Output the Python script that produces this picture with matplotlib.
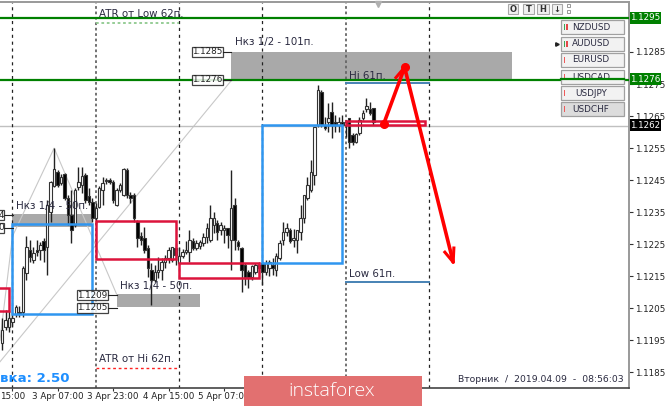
import matplotlib
matplotlib.use('Agg')
import matplotlib.pyplot as plt
from matplotlib.patches import Rectangle

plt.rcParams['font.family'] = ['DejaVu Sans']

# hourly candles, first one sits 3 bars left of the first day line
opens = [1.11941, 1.11991, 1.11991, 1.12006, 1.12031, 1.12038, 1.12038, 1.12159, 1.12231, 1.12200, 1.12231, 1.12231,
         1.12259, 1.12241, 1.12350, 1.12431, 1.12475, 1.12441, 1.12469, 1.12394, 1.12341, 1.12309, 1.12428, 1.12434,
         1.12466, 1.12400, 1.12381, 1.12331, 1.12366, 1.12419, 1.12447, 1.12450, 1.12444, 1.12372, 1.12419, 1.12403,
         1.12481, 1.12403, 1.12403, 1.12319, 1.12275, 1.12269, 1.12238, 1.12169, 1.12138, 1.12163, 1.12169, 1.12194,
         1.12206, 1.12200, 1.12238, 1.12191, 1.12213, 1.12225, 1.12225, 1.12259, 1.12238, 1.12244, 1.12253, 1.12272,
         1.12263, 1.12309, 1.12316, 1.12294, 1.12294, 1.12300, 1.12263, 1.12372, 1.12256, 1.12238, 1.12184, 1.12163,
         1.12147, 1.12163, 1.12184, 1.12191, 1.12163, 1.12175, 1.12184, 1.12169, 1.12206, 1.12263, 1.12288, 1.12294,
         1.12263, 1.12263, 1.12288, 1.12331, 1.12394, 1.12419, 1.12466, 1.12622, 1.12725, 1.12622, 1.12631, 1.12663,
         1.12631, 1.12622, 1.12631, 1.12622, 1.12644, 1.12591, 1.12569, 1.12597, 1.12644, 1.12672, 1.12672, 1.12675]
closes = [1.11981, 1.12013, 1.12019, 1.12019, 1.12053, 1.12031, 1.12175, 1.12241, 1.12209, 1.12222, 1.12225, 1.12247,
          1.12231, 1.12372, 1.12444, 1.12484, 1.12434, 1.12459, 1.12394, 1.12341, 1.12294, 1.12419, 1.12444, 1.12463,
          1.12388, 1.12381, 1.12331, 1.12363, 1.12425, 1.12441, 1.12450, 1.12444, 1.12388, 1.12419, 1.12434, 1.12484,
          1.12403, 1.12394, 1.12331, 1.12269, 1.12263, 1.12231, 1.12175, 1.12138, 1.12163, 1.12169, 1.12194, 1.12206,
          1.12231, 1.12241, 1.12216, 1.12213, 1.12225, 1.12231, 1.12263, 1.12238, 1.12253, 1.12256, 1.12272, 1.12300,
          1.12331, 1.12331, 1.12288, 1.12309, 1.12300, 1.12278, 1.12363, 1.12263, 1.12244, 1.12169, 1.12147, 1.12147,
          1.12181, 1.12184, 1.12175, 1.12163, 1.12191, 1.12194, 1.12175, 1.12213, 1.12253, 1.12288, 1.12300, 1.12259,
          1.12269, 1.12294, 1.12331, 1.12403, 1.12434, 1.12475, 1.12616, 1.12731, 1.12622, 1.12613, 1.12644, 1.12622,
          1.12622, 1.12631, 1.12622, 1.12631, 1.12569, 1.12569, 1.12594, 1.12638, 1.12659, 1.12681, 1.12659, 1.12631]
highs = [1.12019, 1.12044, 1.12044, 1.12038, 1.12059, 1.12056, 1.12181, 1.12275, 1.12263, 1.12241, 1.12263, 1.12256,
         1.12269, 1.12388, 1.12447, 1.12550, 1.12481, 1.12469, 1.12472, 1.12403, 1.12419, 1.12425, 1.12491, 1.12491,
         1.12472, 1.12425, 1.12394, 1.12378, 1.12431, 1.12459, 1.12456, 1.12456, 1.12450, 1.12425, 1.12441, 1.12488,
         1.12488, 1.12413, 1.12409, 1.12325, 1.12288, 1.12303, 1.12247, 1.12191, 1.12184, 1.12209, 1.12206, 1.12216,
         1.12241, 1.12241, 1.12253, 1.12241, 1.12234, 1.12259, 1.12294, 1.12269, 1.12263, 1.12263, 1.12284, 1.12316,
         1.12372, 1.12350, 1.12325, 1.12319, 1.12309, 1.12300, 1.12481, 1.12394, 1.12263, 1.12241, 1.12191, 1.12169,
         1.12184, 1.12191, 1.12194, 1.12194, 1.12200, 1.12200, 1.12206, 1.12222, 1.12263, 1.12319, 1.12316, 1.12300,
         1.12297, 1.12294, 1.12372, 1.12403, 1.12459, 1.12513, 1.12616, 1.12747, 1.12731, 1.12647, 1.12691, 1.12694,
         1.12653, 1.12647, 1.12653, 1.12638, 1.12644, 1.12597, 1.12597, 1.12647, 1.12669, 1.12706, 1.12694, 1.12675]
lows = [1.11919, 1.11981, 1.11975, 1.11991, 1.12022, 1.12022, 1.12022, 1.12138, 1.12194, 1.12191, 1.12213, 1.12200,
        1.12194, 1.12153, 1.12319, 1.12428, 1.12428, 1.12434, 1.12388, 1.12309, 1.12253, 1.12303, 1.12419, 1.12409,
        1.12378, 1.12372, 1.12319, 1.12313, 1.12363, 1.12372, 1.12438, 1.12438, 1.12378, 1.12369, 1.12413, 1.12400,
        1.12394, 1.12378, 1.12319, 1.12241, 1.12247, 1.12222, 1.12147, 1.12059, 1.12131, 1.12144, 1.12138, 1.12175,
        1.12191, 1.12194, 1.12184, 1.12184, 1.12206, 1.12219, 1.12194, 1.12231, 1.12231, 1.12234, 1.12244, 1.12253,
        1.12256, 1.12284, 1.12263, 1.12278, 1.12253, 1.12238, 1.12169, 1.12231, 1.12231, 1.12100, 1.12122, 1.12113,
        1.12138, 1.12156, 1.12156, 1.12122, 1.12153, 1.12150, 1.12153, 1.12150, 1.12200, 1.12247, 1.12275, 1.12253,
        1.12241, 1.12222, 1.12263, 1.12316, 1.12388, 1.12413, 1.12434, 1.12616, 1.12616, 1.12606, 1.12600, 1.12581,
        1.12600, 1.12600, 1.12581, 1.12584, 1.12550, 1.12559, 1.12566, 1.12591, 1.12638, 1.12663, 1.12653, 1.12622]
bars = list(range(-3, -3 + len(opens)))

price_ticks = [1.1185, 1.1195, 1.1205, 1.1215, 1.1225, 1.1235, 1.1245, 1.1255, 1.1265, 1.1275, 1.1285]
time_ticks = [0, 13, 29, 45, 61]
time_labels = ['15:00', '3 Apr 07:00', '3 Apr 23:00', '4 Apr 15:00', '5 Apr 07:00']

# boxes: bar from, bar to, price low, price high
blue_boxes = [(0, 23, 1.12031, 1.12313), (72, 95, 1.12192, 1.12623)]
red_boxes = [(-10, -1, 1.12041, 1.12113), (24, 47, 1.12203, 1.12322), (48, 71, 1.12144, 1.12191), (96, 119, 1.12622, 1.12634)]
zones = [(63, 144, 1.12764, 1.1285), (30, 54, 1.12053, 1.12094), (0, 23, 1.12303, 1.12344)]

green_levels = [1.12955, 1.12764]
last_price = 1.1262
thin_line = ([-3.6, 63], [1.11883, 1.1276])
zigzag = ([-3.6, 0, 12, 30], [1.1195, 1.12275, 1.1255, 1.12094])
arrow_bars = [107, 113, 127]
arrow_prices = [1.12626, 1.12802, 1.12194]

pairs = ['NZDUSD', 'AUDUSD', 'EURUSD', 'USDCAD', 'USDJPY', 'USDCHF']

fig = plt.figure(figsize=(6.65, 4.07), dpi=100)
ax = fig.add_axes([0, 19 / 407, 629 / 665, 386 / 407])
ax.set_xlim(-3.602, 177.67)
ax.set_ylim(1.11801, 1.13006)

# zones go under the candles
for b0, b1, p0, p1 in zones:
    ax.add_patch(Rectangle((b0, p0), b1 - b0, p1 - p0, color='#a9a9a9', lw=0, zorder=1))

ax.plot(thin_line[0], thin_line[1], color='#c8c8c8', lw=0.8, zorder=1)
ax.plot(zigzag[0], zigzag[1], color='#c8c8c8', lw=0.8, zorder=1)
ax.axhline(last_price, color='#c0c0c0', lw=1, zorder=1)

# day separators
for b in [0, 48, 72, 120]:
    ax.axvline(b, color='#222222', lw=0.9, ls=(0, (2.5, 3)), zorder=1.5)
for b in [24, 96]:
    ax.axvline(b, color='#666666', lw=1.3, ls=(0, (1.5, 1.5)), zorder=1.5)

ax.vlines(bars, lows, highs, color='#222222', lw=1, zorder=3)
for b, o, c in zip(bars, opens, closes):
    face = 'white' if c >= o else 'black'
    ax.bar(b, abs(c - o), bottom=min(o, c), width=0.72, color=face, edgecolor='#333333', lw=0.8, zorder=4)

for b0, b1, p0, p1 in blue_boxes:
    ax.add_patch(Rectangle((b0, p0), b1 - b0, p1 - p0, fill=False, ec='#2f96f0', lw=1.8, zorder=5))
for b0, b1, p0, p1 in red_boxes:
    ax.add_patch(Rectangle((b0, p0), b1 - b0, p1 - p0, fill=False, ec='#dc143c', lw=1.8, zorder=5))

for p in green_levels:
    ax.axhline(p, color='#008000', lw=1.6, zorder=6)

ax.plot([24, 48], [1.12941, 1.12941], color='#8fc98f', lw=1.3, ls=(0, (1.5, 1.5)), zorder=2)
ax.plot([24, 48], [1.11864, 1.11864], color='#ff2020', lw=1, ls=(0, (2, 2)), zorder=2)
ax.plot([96, 120], [1.12753, 1.12753], color='#4682b4', lw=1.4, zorder=2)
ax.plot([96, 120], [1.12131, 1.12131], color='#4682b4', lw=1.4, zorder=2)

# forecast arrow
ax.plot(arrow_bars, arrow_prices, color='#ff0000', lw=2.6, zorder=7, solid_capstyle='round')
ax.plot(arrow_bars[:2], arrow_prices[:2], 'o', color='#ff0000', ms=5.5, zorder=7)
ax.plot([124.6, 127, 127.2], [1.12225, 1.12194, 1.12238], color='#ff0000', lw=2.2, zorder=7)
ax.plot([110.5, 113], [1.1277, 1.12802], color='#ff0000', lw=2.2, zorder=7)

ax.yaxis.tick_right()
ax.set_yticks(price_ticks)
ax.set_yticklabels(['%.4f' % p for p in price_ticks], fontsize=6.3, color='#222222')
ax.set_xticks(time_ticks)
ax.set_xticklabels(time_labels, fontsize=6.3, color='#222222')
ax.tick_params(axis='y', length=3, width=0.8, pad=1, color='#333333')
ax.tick_params(axis='x', length=2, width=0.8, pad=1, color='#333333')
ax.spines['left'].set_visible(False)
ax.spines['top'].set_color('#999999')
ax.spines['top'].set_linewidth(1.4)
ax.spines['right'].set_color('#999999')
ax.spines['right'].set_linewidth(1.4)
ax.spines['bottom'].set_color('#444444')
ax.spines['bottom'].set_linewidth(1.2)

# labels on the chart
label_kw = dict(fontsize=7.4, color='#2a2a40', va='center', zorder=8)
ax.text(25, 1.12968, 'ATR от Low 62п.', **label_kw)
ax.text(25, 1.1189, 'ATR от Hi 62п.', **label_kw)
ax.text(64, 1.12880, 'Нкз 1/2 - 101п.', **label_kw)
ax.text(31, 1.12118, 'Нкз 1/4 - 50п.', **label_kw)
ax.text(1, 1.12370, 'Нкз 1/4 - 50п.', **label_kw)
ax.text(97, 1.12775, 'Hi 61п.', **label_kw)
ax.text(97, 1.12156, 'Low 61п.', **label_kw)

# everything below is terminal chrome, drawn in screen pixels
ui = fig.add_axes([0, 0, 1, 1], facecolor='none')
ui.set_xlim(0, 665)
ui.set_ylim(407, 0)
ui.axis('off')


def price_box(x0, x1, yc, text, stub_to):
    ui.add_patch(Rectangle((x0, yc - 5), x1 - x0, 10, fc='white', ec='#222222', lw=0.9, alpha=0.85))
    ui.text((x0 + x1) / 2, yc, text, fontsize=6.3, ha='center', va='center', color='#222222')
    ui.plot([x1, stub_to], [yc, yc], color='#222222', lw=0.8)


price_box(192, 222.5, 52, '1.1285', 231)
price_box(192, 222.5, 80, '1.1276', 231)
price_box(77, 108, 295, '1.1209', 116.5)
price_box(77, 108, 308, '1.1205', 116.5)
# these two run off the left edge, only the last digit shows
price_box(-2, 4, 215, '4', 12.5)
price_box(-2, 4, 228, '0', 12.5)

# price tags on the right
for yc, text, bg in [(18, '1.1295', '#008000'), (79, '1.1276', '#008000'), (125, '1.1262', '#000000')]:
    ui.add_patch(Rectangle((630, yc - 6), 31, 12, fc=bg, ec='none', clip_on=False))
    ui.text(645.5, yc, text, fontsize=6.3, ha='center', va='center', color='white')

# pair buttons
button_tops = [20, 37, 53, 70, 86, 102]
marks = [['#3aa655', '#e34a4a'], ['#3aa655', '#e34a4a'], ['#ef5a5a'], ['#ef5a5a'], ['#ef5a5a'], ['#ef5a5a']]
for top, name, cols in zip(button_tops, pairs, marks):
    fc = '#dcdcdc' if name == 'USDCHF' else '#f2f2f2'
    ui.add_patch(Rectangle((561, top), 63, 14, fc=fc, ec='#a0a0a0', lw=0.9, zorder=2))
    ui.text(591, top + 7, name, fontsize=6.4, ha='center', va='center', color='#2a2a40', zorder=3)
    for k, c in enumerate(cols):
        ui.add_patch(Rectangle((563.5 + k * 2.5, top + 4), 1.5, 6, fc=c, ec='none', zorder=3))
ui.plot([561, 624], [79, 79], color='#008000', lw=1.6, zorder=4)
ui.plot([557], [44], marker='>', color='#222222', ms=2.5)

# O T H buttons
for x0, w, s in [(508, 10, 'O'), (523, 11, 'T'), (537, 12, 'H'), (552, 10, '↓')]:
    ui.add_patch(Rectangle((x0, 4), w, 10, fc='#f0f0f0', ec='#a8a8a8', lw=0.8))
    ui.text(x0 + w / 2, 9, s, fontsize=6, fontweight='bold', ha='center', va='center', color='#333333')
for y0 in [4, 10]:
    ui.add_patch(Rectangle((567, y0), 3, 3, fc='white', ec='#888888', lw=0.6))
ui.plot([378], [3.5], marker='v', color='#b0b0b0', ms=5)

ui.text(0.5, 379, 'вка: 2.50', fontsize=9.6, fontweight='bold', color='#1e8fff', ha='left', va='center')
ui.text(624, 380, 'Вторник  /  2019.04.09  -  08:56:03', fontsize=6.7, color='#2a2a40', ha='right', va='center')

ui.add_patch(Rectangle((244, 376), 178, 30, fc='#e27070', ec='none', zorder=9))
ui.text(332, 390.5, 'instaforex', fontsize=14, color='white', ha='center', va='center', fontfamily='Open Sans', fontweight='light', zorder=10)

fig.savefig('out.png', dpi=100)
